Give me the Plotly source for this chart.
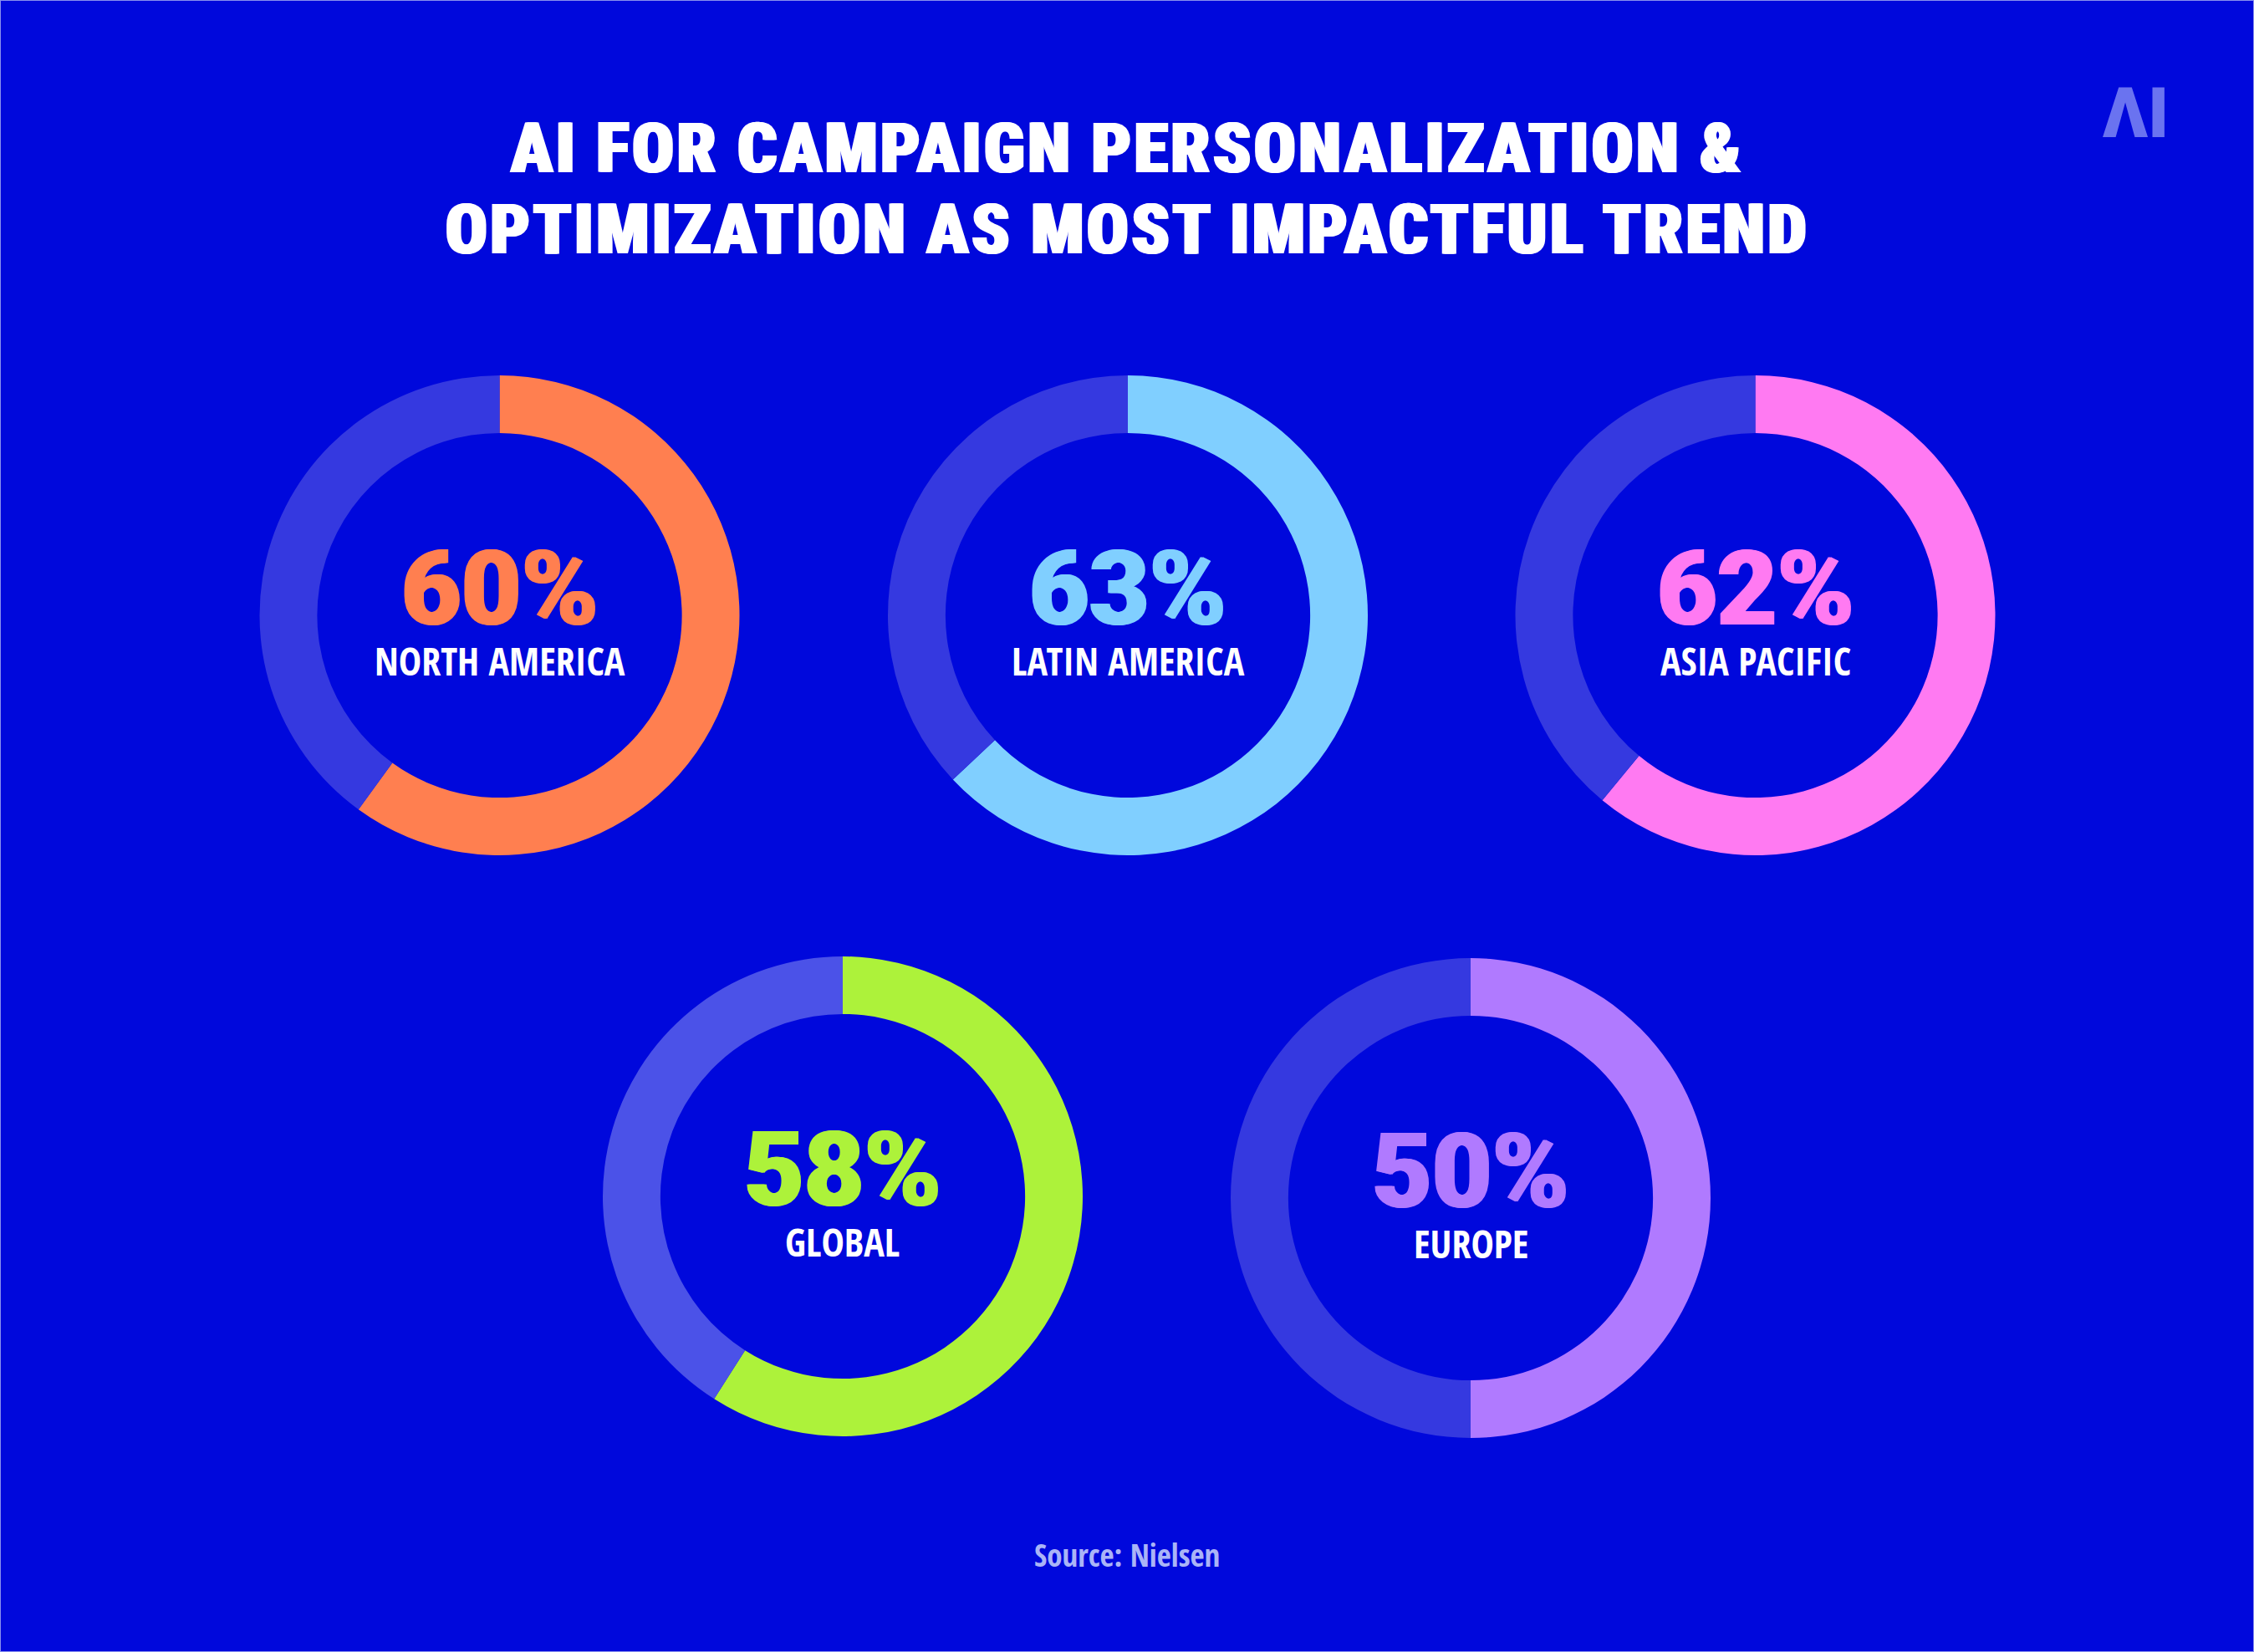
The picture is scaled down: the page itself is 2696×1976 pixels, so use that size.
import plotly.graph_objects as go

W, H = 2696, 1976

# chart data
regions = ['NORTH AMERICA', 'LATIN AMERICA', 'ASIA PACIFIC', 'GLOBAL', 'EUROPE']
shares = [60, 63, 62, 58, 50]
# the arcs in the picture do not quite follow the printed figures for Asia Pacific and Global
arc_shares = [60, 63, 61, 59, 50]
title_lines = ['AI FOR CAMPAIGN PERSONALIZATION &', 'OPTIMIZATION AS MOST IMPACTFUL TREND']
source_text = 'Source: Nielsen'
logo_text = 'ΛI'

# look of each ring
ring_colors = ['#FF7F50', '#80CFFF', '#FF7AF2', '#ADF23A', '#B07AFF']
track_colors = ['#3539E0', '#3539E0', '#3539E0', '#4B52E8', '#3539E0']
centers = [(597.5, 736), (1349, 736), (2099.5, 736), (1008, 1431), (1759, 1433)]
RADIUS = 287
BG = '#0008DC'
TITLE_FONT = 'Roboto Condensed'
LABEL_FONT = 'Open Sans Condensed'


def px(x, y):
    return x / W, 1 - y / H


fig = go.Figure()
annotations = []


def add_text(x, y, text, size, color, family=LABEL_FONT, weight='normal', shadow=None):
    ax, ay = px(x, y)
    annotations.append(dict(
        x=ax, y=ay, xref='paper', yref='paper', xanchor='center', yanchor='middle',
        text=text, showarrow=False,
        font=dict(family=family, size=size, color=color, weight=weight, shadow=shadow)
    ))


for region, share, arc, color, track, (cx, cy) in zip(regions, shares, arc_shares, ring_colors, track_colors, centers):
    fig.add_trace(go.Pie(
        values=[arc, 100 - arc],
        labels=[region, 'Other'],
        marker=dict(colors=[color, track], line=dict(width=0)),
        hole=0.76,
        sort=False,
        direction='clockwise',
        rotation=0,
        textinfo='none',
        showlegend=False,
        domain=dict(x=[(cx - RADIUS) / W, (cx + RADIUS) / W],
                    y=[1 - (cy + RADIUS) / H, 1 - (cy - RADIUS) / H])
    ))
    add_text(cx, cy - 32, f'{share}%', 124, color, family='Roboto', weight=900,
             shadow=f'1.5px 0 {color}, -1.5px 0 {color}')
    add_text(cx, cy + 54, region, 46, 'white', weight='bold')

heavy = '1.5px 0 #fff, -1.5px 0 #fff'
add_text(1348, 177, title_lines[0], 84, 'white', family=TITLE_FONT, weight=900, shadow=heavy)
add_text(1348, 275, title_lines[1], 84, 'white', family=TITLE_FONT, weight=900, shadow=heavy)
add_text(1348, 1859, source_text, 37, '#AAB4F7', weight=300)
add_text(2554, 135, logo_text, 84, '#6A73F0', family='Roboto', weight=900)

fig.update_layout(
    width=W, height=H,
    margin=dict(l=0, r=0, t=0, b=0),
    paper_bgcolor=BG,
    plot_bgcolor=BG,
    annotations=annotations,
    shapes=[dict(type='rect', xref='paper', yref='paper', x0=0, x1=1, y0=0, y1=1,
                 line=dict(color='#8890EE', width=2), fillcolor='rgba(0,0,0,0)')]
)

# no margin round the page, and the title set a little wider
post = """
document.body.style.margin = '0';
document.querySelectorAll('.annotation-text').forEach(function (t) {
    if (t.style.fontSize === '84px' && t.style.fontFamily.indexOf('Condensed') >= 0) {
        t.style.letterSpacing = '2.8px';
    }
});
"""
fig.write_html("out.html", config=dict(displayModeBar=False), post_script=post)
